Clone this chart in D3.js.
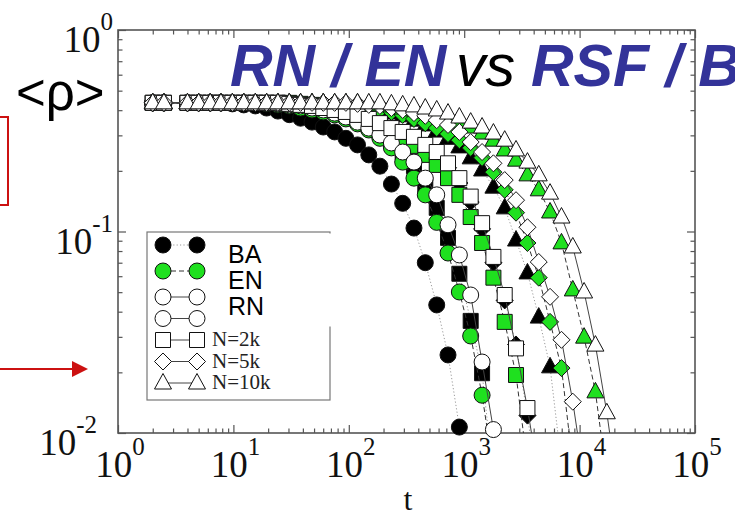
<!DOCTYPE html>
<html>
<head>
<meta charset="utf-8">
<script src="https://cdn.jsdelivr.net/npm/d3@7/dist/d3.min.js"></script>
<style>
  html, body { margin: 0; padding: 0; background: #fff; }
  svg { display: block; }
</style>
</head>
<body>
<svg id="chart" width="735" height="518"></svg>
<script>
// Sampling times (shared by all runs)
const times = [2.0, 2.5, 4.0, 5.0, 6.3, 7.8, 9.8, 12.3, 15.5, 19.4, 24.3, 30.5, 38.2, 48.0, 60.1, 75.4,
  94.4, 119, 149, 186, 234, 293, 367, 460, 578, 724, 908, 1138, 1429, 1791, 2244, 2812, 3532,
  4426, 5546, 6966, 8730, 10940, 13710, 17220, 21580];

// <rho>(t) for each network type and size
const rhoBA1k = [0.435, 0.435, 0.435, 0.435, 0.435, 0.435,
  0.43, 0.425, 0.42, 0.41, 0.396, 0.38, 0.365, 0.349, 0.33, 0.312, 0.29, 0.269, 0.24, 0.211,
  0.172, 0.138, 0.104, 0.070, 0.0432, 0.0244, 0.0107];
const rhoEN1k = [0.435, 0.435, 0.435, 0.435, 0.435, 0.435, 0.435, 0.435, 0.435,
  0.43, 0.425, 0.42, 0.41, 0.401, 0.392, 0.379, 0.362, 0.342, 0.319, 0.29, 0.26, 0.221, 0.184,
  0.152, 0.111, 0.0782, 0.0501, 0.0303, 0.0154, 0.0066];
const rhoRN1k = [0.435, 0.435, 0.435, 0.435, 0.435, 0.435, 0.435, 0.435, 0.435, 0.435,
  0.43, 0.425, 0.42, 0.41, 0.401, 0.387, 0.37, 0.349, 0.326, 0.301, 0.275, 0.248, 0.221, 0.184,
  0.152, 0.108, 0.0765, 0.0484, 0.0225, 0.0104];
const rhoBA2k = [0.435, 0.435, 0.435, 0.435, 0.435, 0.435, 0.435, 0.435, 0.435, 0.435, 0.435,
  0.43, 0.425, 0.42, 0.41, 0.396, 0.382, 0.362, 0.338, 0.312, 0.281, 0.248, 0.211, 0.170, 0.131,
  0.093, 0.0617, 0.036, 0.0198, 0.006];
const rhoEN2k = [0.435, 0.435, 0.435, 0.435, 0.435, 0.435, 0.435, 0.435, 0.435, 0.435, 0.435, 0.435,
  0.43, 0.425, 0.415, 0.405, 0.392, 0.375, 0.357, 0.338, 0.315, 0.29, 0.266, 0.24, 0.214, 0.184,
  0.152, 0.118, 0.0877, 0.059, 0.0356, 0.0194, 0.007];
const rhoRN2k = [0.435, 0.435, 0.435, 0.435, 0.435, 0.435, 0.435, 0.435, 0.435, 0.435, 0.435,
  0.43, 0.425, 0.42, 0.41, 0.401, 0.392, 0.379, 0.362, 0.345, 0.326, 0.312, 0.295, 0.269, 0.248,
  0.218, 0.184, 0.149, 0.110, 0.0748, 0.0484, 0.0263, 0.0133, 0.006];
const rhoBA5k = [0.435, 0.435, 0.435, 0.435, 0.435, 0.435, 0.435, 0.435, 0.435, 0.435, 0.435,
  0.43, 0.425, 0.415, 0.405, 0.395, 0.385, 0.37, 0.352, 0.335, 0.315, 0.3, 0.282, 0.258, 0.236,
  0.207, 0.174, 0.14, 0.103, 0.07, 0.0455, 0.0275, 0.0122, 0.005];
const rhoEN5k = [0.435, 0.435, 0.435, 0.435, 0.435, 0.435, 0.435, 0.435, 0.435, 0.435, 0.435, 0.435,
  0.435, 0.435, 0.435,
  0.43, 0.425, 0.42, 0.41, 0.401, 0.392, 0.379, 0.362, 0.345, 0.326, 0.305, 0.284, 0.26, 0.232,
  0.197, 0.161, 0.124, 0.0877, 0.059, 0.0356, 0.021, 0.007];
const rhoRN5k = [0.435, 0.435, 0.435, 0.435, 0.435, 0.435, 0.435, 0.435, 0.435, 0.435, 0.435, 0.435,
  0.435, 0.435, 0.435, 0.435, 0.435,
  0.43, 0.425, 0.42, 0.41, 0.401, 0.387, 0.375, 0.357, 0.338, 0.312, 0.278, 0.248, 0.218, 0.18,
  0.143, 0.105, 0.0706, 0.0474, 0.029, 0.0143, 0.006];
const rhoBA10k = [0.435, 0.435, 0.435, 0.435, 0.435, 0.435, 0.435, 0.435, 0.435, 0.435, 0.435, 0.435,
  0.435, 0.435, 0.435,
  0.43, 0.425, 0.42, 0.41, 0.401, 0.387, 0.375, 0.357, 0.338, 0.315, 0.29, 0.263, 0.232, 0.202,
  0.166, 0.131, 0.0907, 0.0623, 0.0376, 0.0213, 0.007];
const rhoEN10k = [0.435, 0.435, 0.435, 0.435, 0.435, 0.435, 0.435, 0.435, 0.435, 0.435, 0.435, 0.435,
  0.435, 0.435, 0.435, 0.435, 0.435, 0.435,
  0.43, 0.425, 0.42, 0.41, 0.401, 0.392, 0.379, 0.365, 0.349, 0.33, 0.308, 0.284, 0.254, 0.226,
  0.191, 0.161, 0.125, 0.0878, 0.0513, 0.0299, 0.016, 0.006];
const rhoRN10k = [0.435, 0.435, 0.435, 0.435, 0.435, 0.435, 0.435, 0.435, 0.435, 0.435, 0.435, 0.435,
  0.435, 0.435, 0.435, 0.435, 0.435, 0.435, 0.435, 0.435,
  0.43, 0.425, 0.42, 0.41, 0.401, 0.387, 0.37, 0.349, 0.33, 0.308, 0.284, 0.254, 0.221, 0.191,
  0.155, 0.118, 0.0838, 0.0501, 0.0273, 0.0126, 0.005];

const networkTypes = ["BA", "EN", "RN"];
const networkSizes = ["1k", "2k", "5k", "10k"];
const sizeLabels = ["N=2k", "N=5k", "N=10k"];
const xTickExponents = [0, 1, 2, 3, 4, 5];
const yTickExponents = [0, -1, -2];
const titleParts = ["RN / EN", "vs", "RSF / B"];

const runs = [
  { net: "BA", size: "1k", rho: rhoBA1k }, { net: "BA", size: "2k", rho: rhoBA2k },
  { net: "BA", size: "5k", rho: rhoBA5k }, { net: "BA", size: "10k", rho: rhoBA10k },
  { net: "EN", size: "1k", rho: rhoEN1k }, { net: "EN", size: "2k", rho: rhoEN2k },
  { net: "EN", size: "5k", rho: rhoEN5k }, { net: "EN", size: "10k", rho: rhoEN10k },
  { net: "RN", size: "1k", rho: rhoRN1k }, { net: "RN", size: "2k", rho: rhoRN2k },
  { net: "RN", size: "5k", rho: rhoRN5k }, { net: "RN", size: "10k", rho: rhoRN10k }
];

// ---- styling ----
const fillOf = { BA: "#000000", EN: "#1fe01f", RN: "#ffffff" };
const lineColorOf = { BA: "#9a9a9a", EN: "#333333", RN: "#444444" };
const lineDashOf = { BA: "1.2,2.2", EN: "5,3", RN: null };
const shapeOf = { "1k": "circle", "2k": "square", "5k": "diamond", "10k": "triangle" };
const frameColor = "#555";

function symbolPath(shape) {
  switch (shape) {
    case "circle": { const r = 8; return `M${-r},0A${r},${r} 0 1,0 ${r},0A${r},${r} 0 1,0 ${-r},0Z`; }
    case "square": { const h = 7.5; return `M${-h},${-h}H${h}V${h}H${-h}Z`; }
    case "diamond": { const h = 8.5; return `M0,${-h}L${h},0L0,${h}L${-h},0Z`; }
    case "triangle": { const w = 8.5, t = 9.5, b = 6; return `M0,${-t}L${w},${b}L${-w},${b}Z`; }
  }
}

const svg = d3.select("#chart");
const W = 735, H = 518;
const plot = { left: 118, right: 695, top: 30, bottom: 433 };

const x = d3.scaleLog().domain([1, 1e5]).range([plot.left, plot.right]);
const y = d3.scaleLog().domain([0.01, 1]).range([plot.bottom, plot.top]);

svg.append("rect").attr("width", W).attr("height", H).attr("fill", "#fff");

svg.append("defs").append("clipPath").attr("id", "plotClip")
  .append("rect")
  .attr("x", plot.left).attr("y", plot.top)
  .attr("width", plot.right - plot.left).attr("height", plot.bottom - plot.top);

// ---- frame and ticks ----
const isDecade = v => Math.abs(Math.log10(v) - Math.round(Math.log10(v))) < 1e-9;
const xMajor = xTickExponents.map(e => Math.pow(10, e));
const yMajor = yTickExponents.map(e => Math.pow(10, e));
const xMinor = x.ticks().filter(v => !isDecade(v));
const yMinor = y.ticks().filter(v => !isDecade(v));

function tickLayer(axisGen, transform) {
  const g = svg.append("g").attr("transform", transform).call(axisGen);
  g.select(".domain").remove();
  g.selectAll("line").attr("stroke", frameColor).attr("stroke-width", 1.2);
  g.selectAll("text").remove();
  return g;
}
const majorLen = 8, minorLen = 4.5;
[[xMajor, majorLen], [xMinor, minorLen]].forEach(([vals, len]) => {
  tickLayer(d3.axisBottom(x).tickValues(vals).tickSize(-len).tickFormat(""), `translate(0,${plot.bottom})`);
  tickLayer(d3.axisTop(x).tickValues(vals).tickSize(-len).tickFormat(""), `translate(0,${plot.top})`);
});
[[yMajor, majorLen], [yMinor, minorLen]].forEach(([vals, len]) => {
  tickLayer(d3.axisLeft(y).tickValues(vals).tickSize(-len).tickFormat(""), `translate(${plot.left},0)`);
  tickLayer(d3.axisRight(y).tickValues(vals).tickSize(-len).tickFormat(""), `translate(${plot.right},0)`);
});

svg.append("rect")
  .attr("x", plot.left).attr("y", plot.top)
  .attr("width", plot.right - plot.left).attr("height", plot.bottom - plot.top)
  .attr("fill", "none").attr("stroke", frameColor).attr("stroke-width", 1.6);

// ---- tick labels (10^n) ----
const serif = "'Liberation Serif', 'Times New Roman', serif";
const sans = "'Liberation Sans', Arial, sans-serif";
function powerLabel(sel, exp) {
  sel.append("tspan").text("10");
  sel.append("tspan").attr("dy", -22).attr("font-size", 25).text(String(exp));
}
xTickExponents.forEach(e => {
  const t = svg.append("text")
    .attr("x", x(Math.pow(10, e)) + 2).attr("y", 477)
    .attr("text-anchor", "middle")
    .attr("font-family", serif).attr("font-size", 37).attr("fill", "#111");
  powerLabel(t, e);
});
yTickExponents.forEach(e => {
  const v = Math.pow(10, e);
  const atFloor = v === y.domain()[0];
  const t = svg.append("text")
    .attr("x", atFloor ? plot.left - 21 : plot.left - 5)
    .attr("y", y(v) + 22)
    .attr("text-anchor", "end")
    .attr("font-family", serif).attr("font-size", 37).attr("fill", "#111");
  powerLabel(t, e);
});

svg.append("text").attr("x", 408).attr("y", 510).attr("text-anchor", "middle")
  .attr("font-family", serif).attr("font-size", 32).attr("fill", "#111").text("t");

// ---- data ----
const line = d3.line().x(d => x(d[0])).y(d => y(d[1]));
const dataLayer = svg.append("g");
runs.forEach(run => {
  const pts = run.rho.map((r, i) => [times[i], r]);
  const g = dataLayer.append("g");
  g.append("path")
    .attr("clip-path", "url(#plotClip)")
    .attr("d", line(pts))
    .attr("fill", "none")
    .attr("stroke", lineColorOf[run.net])
    .attr("stroke-width", 1)
    .attr("stroke-dasharray", lineDashOf[run.net]);
  g.selectAll("path.mk")
    .data(pts.filter(d => d[1] >= y.domain()[0]))
    .join("path")
    .attr("class", "mk")
    .attr("transform", d => `translate(${x(d[0])},${y(d[1])})`)
    .attr("d", symbolPath(shapeOf[run.size]))
    .attr("fill", fillOf[run.net])
    .attr("stroke", "#111")
    .attr("stroke-width", 1);
});

// ---- legend ----
const legend = svg.append("g");
legend.append("rect").attr("x", 147).attr("y", 232).attr("width", 183).attr("height", 168)
  .attr("fill", "#fff").attr("stroke", "#777").attr("stroke-width", 1.2);

const legendRows = [
  ...networkTypes.map(n => ({ net: n, shape: "circle" })),
  { net: "RN", shape: "circle" },
  ...networkSizes.slice(1).map(s => ({ net: "RN", shape: shapeOf[s] }))
];
const rowY = i => i < 3 ? 245 + 26 * i : 297 + 21.5 * (i - 2);
const legX0 = 163, legX1 = 197;
legendRows.forEach((row, i) => {
  const yy = rowY(i);
  legend.append("line").attr("x1", legX0).attr("x2", legX1).attr("y1", yy).attr("y2", yy)
    .attr("stroke", i < 3 ? lineColorOf[row.net] : "#444")
    .attr("stroke-width", 1)
    .attr("stroke-dasharray", i < 3 ? lineDashOf[row.net] : null);
  [legX0, legX1].forEach(xx => {
    legend.append("path").attr("transform", `translate(${xx},${yy})`)
      .attr("d", symbolPath(row.shape))
      .attr("fill", fillOf[row.net]).attr("stroke", "#111").attr("stroke-width", 1);
  });
});
sizeLabels.forEach((lab, k) => {
  legend.append("text").attr("x", 212).attr("y", rowY(k + 4) + 6)
    .attr("font-family", serif).attr("font-size", 21).attr("fill", "#222").text(lab);
});
// network type labels on their own white panel
legend.append("rect").attr("x", 208).attr("y", 233.5).attr("width", 127).attr("height", 93)
  .attr("fill", "#fff");
networkTypes.forEach((n, i) => {
  legend.append("text").attr("x", 228).attr("y", 263 + 26 * i)
    .attr("font-family", sans).attr("font-size", 25)
    .attr("fill", "#000").text(n);
});

// ---- title ----
const titleFont = 59;
const titleStyle = [
  { x: 230, weight: "bold", fill: "#333399" },
  { x: 456, weight: "normal", fill: "#000000" },
  { x: 531, weight: "bold", fill: "#333399" }
];
titleParts.forEach((part, i) => {
  svg.append("text").attr("x", titleStyle[i].x).attr("y", 86)
    .attr("font-family", sans).attr("font-size", titleFont)
    .attr("font-style", "italic").attr("font-weight", titleStyle[i].weight)
    .attr("fill", titleStyle[i].fill).text(part);
});

// ---- y label ----
svg.append("text").attr("x", 16).attr("y", 110)
  .attr("font-family", sans).attr("font-size", 51)
  .attr("fill", "#000").text("<ρ>");

// ---- red annotation marks ----
const red = "#cc1111";
svg.append("path").attr("d", "M0,117H8V205H0").attr("fill", "none")
  .attr("stroke", red).attr("stroke-width", 2);
svg.append("line").attr("x1", 0).attr("x2", 75).attr("y1", 369).attr("y2", 369)
  .attr("stroke", red).attr("stroke-width", 2);
svg.append("path").attr("d", "M72,361L88,369L72,377Z").attr("fill", red);
</script>
</body>
</html>
